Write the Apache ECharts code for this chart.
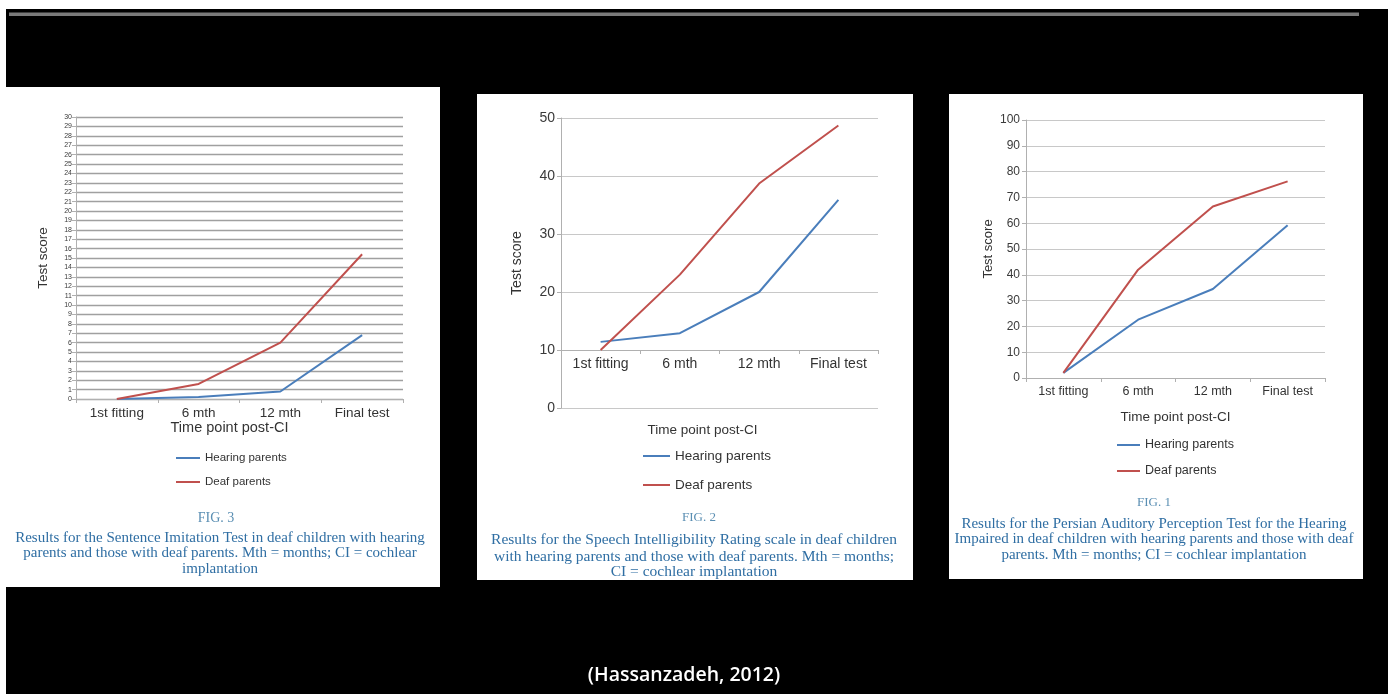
<!DOCTYPE html>
<html>
<head>
<meta charset="utf-8">
<script src="https://cdn.jsdelivr.net/npm/echarts@6/dist/echarts.min.js"></script>
<style>
html,body{margin:0;padding:0;background:#000;}
#c{width:1388px;height:694px;}
</style>
</head>
<body>
<div id="c"></div>
<script>
// ---- data ----
const categories = ['1st fitting', '6 mth', '12 mth', 'Final test'];
const seriesNames = ['Hearing parents', 'Deaf parents'];
// FIG. 3 Sentence Imitation Test
const fig3Hearing = [0, 0.2, 0.8, 6.8];
const fig3Deaf = [0, 1.6, 6.0, 15.4];
const fig3Axis = [0, 30, 1];
// FIG. 2 Speech Intelligibility Rating
const fig2Hearing = [11.4, 12.9, 20.0, 35.9];
const fig2Deaf = [10.0, 23.0, 38.7, 48.7];
const fig2Axis = [0, 50, 10];
// FIG. 1 Persian Auditory Perception Test
const fig1Hearing = [2.0, 22.6, 34.5, 59.2];
const fig1Deaf = [2.0, 42.0, 66.5, 76.2];
const fig1Axis = [0, 100, 10];
const yAxisTitle = 'Test score';
const xAxisTitle = 'Time point post-CI';
const figLabels = ['FIG. 3', 'FIG. 2', 'FIG. 1'];
const captions3 = ['Results for the Sentence Imitation Test in deaf children with hearing',
  'parents and those with deaf parents. Mth = months; CI = cochlear', 'implantation'];
const captions2 = ['Results for the Speech Intelligibility Rating scale in deaf children',
  'with hearing parents and those with deaf parents. Mth = months;', 'CI = cochlear implantation'];
const captions1 = ['Results for the Persian Auditory Perception Test for the Hearing',
  'Impaired in deaf children with hearing parents and those with deaf', 'parents. Mth = months; CI = cochlear implantation'];
const sourceText = '(Hassanzadeh, 2012)';

// ---- styles ----
const BLUE = '#4a7ebb', RED = '#c0504d';
const SANS = '"Liberation Sans", Arial, sans-serif';
const SERIF = '"Liberation Serif", "DejaVu Serif", serif';
const CAP = '#2f6ea3';

const chart = echarts.init(document.getElementById('c'));

function xAx(gi, fs, nameFs, gap, shift, extra) {
  return Object.assign({
    type: 'category', gridIndex: gi, data: categories, boundaryGap: true,
    name: xAxisTitle, nameLocation: 'middle', nameGap: gap,
    nameTextStyle: {fontFamily: SANS, fontSize: nameFs, color: '#333', padding: [0, shift, 0, 0]},
    axisLine: {onZero: false, lineStyle: {color: '#b0b0b0', width: 1}},
    axisTick: {show: true, length: 4, lineStyle: {color: '#b0b0b0'}},
    axisLabel: {fontFamily: SANS, fontSize: fs, color: '#333', margin: 7},
    splitLine: {show: false}
  }, extra || {});
}
function yAx(gi, ax, fs, nameFs, gap, grid, gridW, labelMargin) {
  return {
    type: 'value', gridIndex: gi, min: ax[0], max: ax[1], interval: ax[2],
    name: yAxisTitle, nameLocation: 'middle', nameGap: gap,
    nameTextStyle: {fontFamily: SANS, fontSize: nameFs, color: '#333'},
    axisLine: {show: true, lineStyle: {color: '#b0b0b0'}},
    axisTick: {show: true, length: 4, lineStyle: {color: '#b0b0b0'}},
    axisLabel: {fontFamily: SANS, fontSize: fs, color: '#3a3a3a', margin: labelMargin},
    splitLine: {show: true, lineStyle: {color: grid, width: gridW}}
  };
}
function ser(name, data, xi, color) {
  return {type: 'line', name: name, data: data, xAxisIndex: xi, yAxisIndex: xi,
    symbol: 'none', lineStyle: {color: color, width: 2}, itemStyle: {color: color}, z: 3};
}
function leg(left, top, w, fs, lh, gap) {
  return {data: seriesNames, orient: 'vertical', left: left, top: top, padding: 0,
    icon: 'rect', itemWidth: w, itemHeight: 2, itemGap: gap, selectedMode: false,
    textStyle: {fontFamily: SANS, fontSize: fs, lineHeight: lh, color: '#333'}};
}
function txt(t, x, y, font, fill) {
  return {type: 'text', z: 10, style: {text: t, x: x, y: y, font: font, fill: fill,
    textAlign: 'center', textVerticalAlign: 'middle'}};
}
function rect(x, y, w, h, fill) {
  return {type: 'rect', z: -10, silent: true, shape: {x: x, y: y, width: w, height: h}, style: {fill: fill}};
}

const graphics = [
  rect(0, 0, 1388, 9, '#fff'),
  rect(0, 0, 6, 694, '#fff'),
  rect(9, 12.5, 1350, 3.5, '#7a7a7a'),
  rect(6, 87, 434, 500, '#fff'),
  rect(477, 94, 436, 486, '#fff'),
  rect(949, 94, 414, 485, '#fff'),
  txt(figLabels[0], 216, 518, '14px ' + SERIF, '#5b8fb3'),
  txt(figLabels[1], 699, 518, '13px ' + SERIF, '#5b8fb3'),
  txt(figLabels[2], 1154, 503, '13px ' + SERIF, '#5b8fb3'),
  txt(sourceText, 684, 675, '600 19.5px "Open Sans", sans-serif', '#fff')
];
[538, 553.5, 569].forEach((y, i) => graphics.push(txt(captions3[i], 220, y, '15px ' + SERIF, CAP)));
[540, 556.5, 572].forEach((y, i) => graphics.push(txt(captions2[i], 694, y, '15.5px ' + SERIF, CAP)));
[524, 539.5, 555].forEach((y, i) => graphics.push(txt(captions1[i], 1154, y, '15px ' + SERIF, CAP)));

const option = {
  backgroundColor: '#000',
  animation: false,
  grid: [
    {left: 76, top: 117, width: 327, height: 282, containLabel: false},
    {left: 561, top: 118, width: 317, height: 290, containLabel: false},
    {left: 1026, top: 120, width: 299, height: 258, containLabel: false}
  ],
  xAxis: [
    xAx(0, 13.5, 14.5, 21, 20),
    xAx(1, 14, 13.5, 73, 34, {offset: -58}),
    xAx(2, 12.5, 13.5, 32, 0)
  ],
  yAxis: [
    yAx(0, fig3Axis, 7, 13.5, 26, '#a0a0a0', 1.3, 4),
    yAx(1, fig2Axis, 14, 14, 37, '#c8c8c8', 1, 6),
    yAx(2, fig1Axis, 12, 13, 31, '#c8c8c8', 1, 6)
  ],
  legend: [
    leg(176, 452, 24, 11.5, 12, 12),
    leg(643, 449, 27, 13.5, 14, 15),
    leg(1117, 438.5, 23, 12.5, 13, 13)
  ],
  series: [
    ser(seriesNames[0], fig3Hearing, 0, BLUE),
    ser(seriesNames[1], fig3Deaf, 0, RED),
    ser(seriesNames[0], fig2Hearing, 1, BLUE),
    ser(seriesNames[1], fig2Deaf, 1, RED),
    ser(seriesNames[0], fig1Hearing, 2, BLUE),
    ser(seriesNames[1], fig1Deaf, 2, RED)
  ],
  graphic: graphics
};
chart.setOption(option);
</script>
</body>
</html>
